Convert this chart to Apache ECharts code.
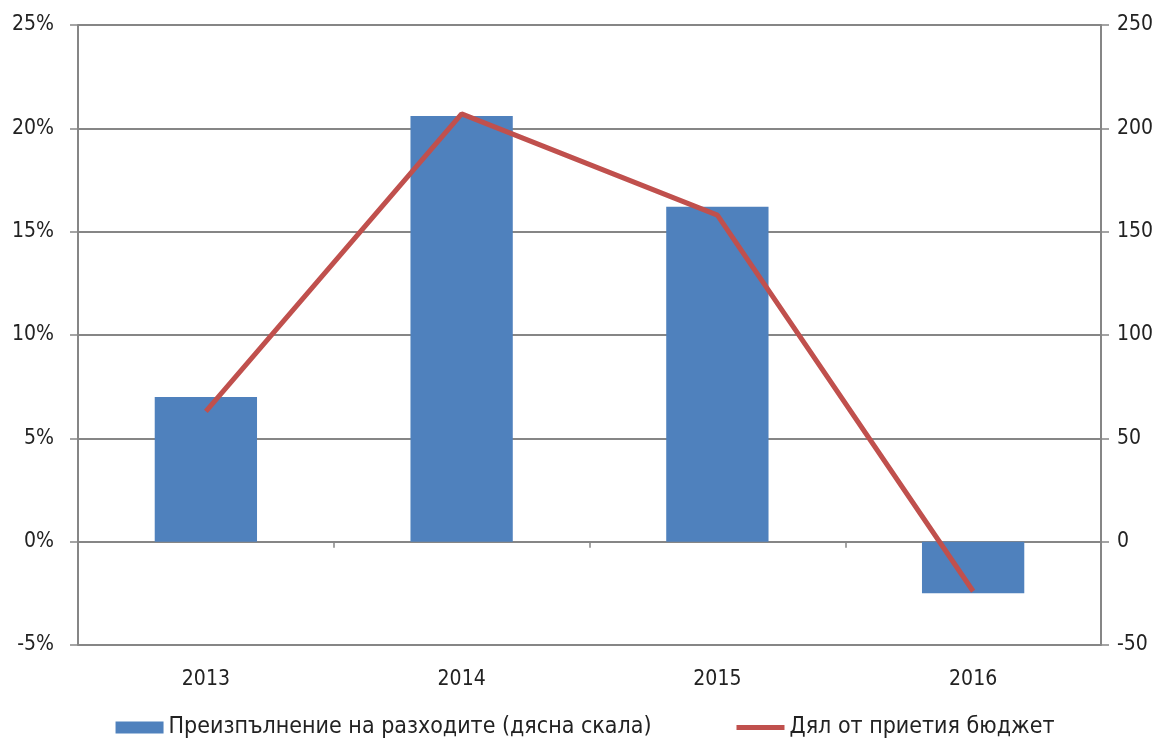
<!DOCTYPE html>
<html>
<head>
<meta charset="utf-8">
<script src="https://cdn.jsdelivr.net/npm/echarts@6/dist/echarts.min.js"></script>
<style>
  html, body { margin: 0; padding: 0; background: #fff; }
  #chart { width: 1170px; height: 746px; }
</style>
</head>
<body>
<div id="chart"></div>
<script>
var years = ['2013', '2014', '2015', '2016'];
// right scale
var overrun = [70, 206, 162, -25];
// left scale, %
var shareBudget = [6.3, 20.7, 15.8, -2.4];
var leftTicks = { min: -5, max: 25, step: 5 };
var rightTicks = { min: -50, max: 250, step: 50 };

var gridColor = '#868686';
var font = '"DejaVu Sans Condensed", "Liberation Sans Narrow", sans-serif';

var chart = echarts.init(document.getElementById('chart'));
var option = {
  animation: false,
  textStyle: { fontFamily: font },
  grid: { left: 78, right: 69, top: 25, bottom: 101 },
  legend: {
    bottom: 2,
    left: 'center',
    itemGap: 85,
    itemWidth: 48,
    itemHeight: 12,
    textStyle: { fontSize: 23, color: '#222', fontFamily: font },
    data: [
      { name: 'Преизпълнение на разходите (дясна скала)', icon: 'rect' },
      { name: 'Дял от приетия бюджет', icon: 'path://M0,0 L0,0 M0,3.5 L48,3.5 L48,8.5 L0,8.5 Z M48,12 L48,12' }
    ]
  },
  xAxis: [
    {
      type: 'category',
      data: years,
      position: 'bottom',
      axisLine: { onZero: false, show: false },
      axisTick: { show: false },
      axisLabel: { fontSize: 21, color: '#222', margin: 24 }
    },
    {
      type: 'category',
      data: years,
      position: 'bottom',
      axisLine: { onZero: true, onZeroAxisIndex: 0, lineStyle: { color: gridColor, width: 2 } },
      axisTick: { show: true, length: 6, lineStyle: { color: gridColor, width: 1.5 } },
      axisLabel: { show: false }
    }
  ],
  yAxis: [
    {
      type: 'value',
      min: leftTicks.min, max: leftTicks.max, interval: leftTicks.step,
      axisLine: { show: true, lineStyle: { color: gridColor, width: 2 } },
      axisTick: { show: true, length: 8, lineStyle: { color: gridColor, width: 1.5 } },
      axisLabel: { formatter: '{value}%', fontSize: 21, color: '#222', margin: 24 },
      splitLine: { show: true, lineStyle: { color: gridColor, width: 2 } }
    },
    {
      type: 'value',
      min: rightTicks.min, max: rightTicks.max, interval: rightTicks.step,
      axisLine: { show: true, lineStyle: { color: gridColor, width: 2 } },
      axisTick: { show: true, length: 8, lineStyle: { color: gridColor, width: 1.5 } },
      axisLabel: { fontSize: 21, color: '#222', margin: 16 },
      splitLine: { show: false }
    }
  ],
  series: [
    {
      name: 'Преизпълнение на разходите (дясна скала)',
      type: 'bar',
      xAxisIndex: 0,
      yAxisIndex: 1,
      barWidth: '40%',
      itemStyle: { color: '#4F81BD' },
      data: overrun
    },
    {
      name: 'Дял от приетия бюджет',
      type: 'line',
      xAxisIndex: 0,
      yAxisIndex: 0,
      symbol: 'none',
      lineStyle: { color: '#C0504D', width: 5 },
      itemStyle: { color: '#C0504D' },
      data: shareBudget
    }
  ]
};
chart.setOption(option);
</script>
</body>
</html>
